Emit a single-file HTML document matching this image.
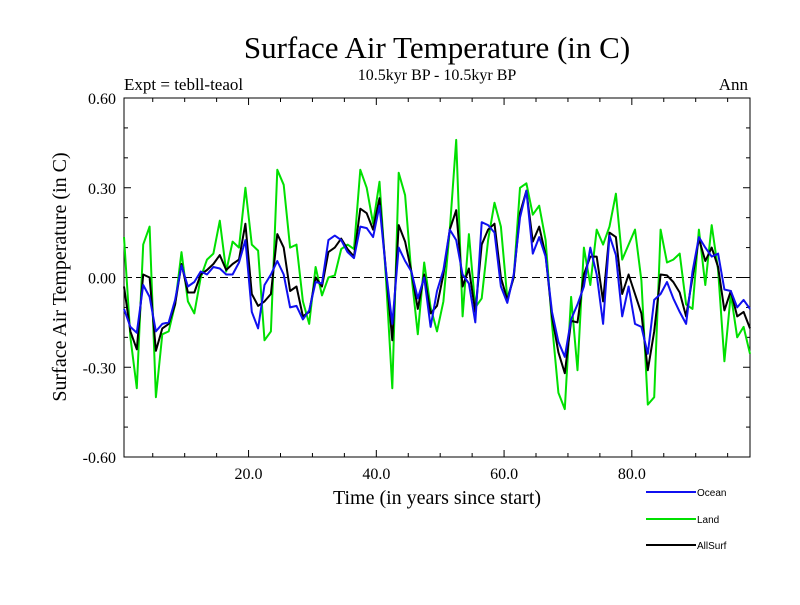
<!DOCTYPE html>
<html><head><meta charset="utf-8"><style>
html,body{margin:0;padding:0;background:#fff;}
svg text{font-family:"Liberation Serif",serif;}
</style></head><body>
<svg id="chart" width="800" height="600" xmlns="http://www.w3.org/2000/svg">
<text x="437" y="58" font-size="31" text-anchor="middle">Surface Air Temperature (in C)</text>
<text x="437" y="80" font-size="16" text-anchor="middle">10.5kyr BP - 10.5kyr BP</text>
<text x="124" y="90" font-size="17">Expt = tebll-teaol</text>
<text x="748" y="90" font-size="17" text-anchor="end">Ann</text>
<text x="437" y="504" font-size="20" text-anchor="middle">Time (in years since start)</text>
<text transform="translate(66,277) rotate(-90)" font-size="20" text-anchor="middle">Surface Air Temperature (in C)</text>
<g id="axes"></g>
<g id="series"></g>
<g id="legend"></g>
</svg>
<script>
const yTickValues=[0.6,0.3,0,-0.3,-0.6];
const yTickLabels=["0.60","0.30","0.00","-0.30","-0.60"];
const xTickValues=[20,40,60,80];
const xTickLabels=["20.0","40.0","60.0","80.0"];
const ocean=[-0.105,-0.165,-0.185,-0.025,-0.065,-0.18,-0.155,-0.15,-0.075,0.04,-0.03,-0.015,0.02,0.01,0.035,0.03,0.01,0.01,0.05,0.125,-0.115,-0.17,-0.025,0.01,0.055,0.01,-0.10,-0.095,-0.14,-0.11,-0.015,-0.02,0.125,0.14,0.125,0.085,0.065,0.17,0.165,0.135,0.24,0.025,-0.155,0.10,0.055,0.02,-0.07,0,-0.165,-0.045,0.025,0.16,0.125,0.01,-0.02,-0.15,0.185,0.175,0.15,-0.03,-0.085,0.01,0.20,0.29,0.08,0.135,0.07,-0.115,-0.215,-0.265,-0.14,-0.09,-0.03,0.10,0.01,-0.155,0.14,0.075,-0.13,-0.03,-0.155,-0.165,-0.255,-0.075,-0.055,-0.015,-0.07,-0.115,-0.155,0.02,0.135,0.10,0.07,0.08,-0.04,-0.045,-0.10,-0.075,-0.105];
const land=[0.135,-0.2,-0.37,0.11,0.17,-0.40,-0.19,-0.18,-0.09,0.085,-0.08,-0.12,0,0.06,0.08,0.19,0.02,0.12,0.10,0.30,0.11,0.09,-0.21,-0.18,0.36,0.31,0.10,0.11,-0.08,-0.155,0.035,-0.06,0,0.007,0.095,0.11,0.095,0.36,0.30,0.18,0.32,0,-0.37,0.35,0.275,0.01,-0.19,0.05,-0.10,-0.18,-0.08,0.16,0.46,-0.13,0.145,-0.10,-0.07,0.125,0.25,0.17,-0.07,0,0.30,0.315,0.21,0.24,0.125,-0.155,-0.385,-0.44,-0.065,-0.31,0.10,-0.025,0.16,0.11,0.17,0.28,0.06,0.11,0.16,-0.01,-0.425,-0.40,0.16,0.05,0.06,0.08,-0.09,-0.105,0.16,-0.025,0.175,0.025,-0.28,-0.055,-0.20,-0.165,-0.255];
const allSurf=[-0.03,-0.18,-0.24,0.01,0,-0.245,-0.17,-0.155,-0.09,0.045,-0.05,-0.05,0.01,0.025,0.045,0.075,0.025,0.045,0.06,0.18,-0.055,-0.095,-0.08,-0.055,0.145,0.10,-0.045,-0.03,-0.13,-0.115,0,-0.03,0.085,0.10,0.13,0.095,0.07,0.23,0.215,0.16,0.265,0.025,-0.21,0.175,0.12,0.02,-0.105,0.01,-0.12,-0.095,0.01,0.16,0.225,-0.03,0.03,-0.115,0.11,0.16,0.18,0,-0.075,0,0.215,0.29,0.12,0.17,0.075,-0.13,-0.25,-0.32,-0.145,-0.15,0.01,0.07,0.07,-0.08,0.15,0.135,-0.055,0.01,-0.055,-0.12,-0.31,-0.18,0.01,0.007,-0.015,-0.05,-0.13,0,0.13,0.055,0.10,0.035,-0.11,-0.045,-0.13,-0.115,-0.17];

const L=124,R=750,T=98,B=457,xMin=0.5,xMax=98.5,yMin=-0.6,yMax=0.6;
const NS="http://www.w3.org/2000/svg";
function xs(v){return L+(v-xMin)/(xMax-xMin)*(R-L);}
function ys(v){return B-(v-yMin)/(yMax-yMin)*(B-T);}
function mk(tag,attrs,parent){const e=document.createElementNS(NS,tag);for(const k in attrs)e.setAttribute(k,attrs[k]);parent.appendChild(e);return e;}
const axes=document.getElementById('axes');
let frame=mk('rect',{x:L,y:T,width:R-L,height:B-T,fill:'none',stroke:'#000','stroke-width':1},axes);


let zl=mk('line',{x1:L,x2:R,y1:ys(0),y2:ys(0),stroke:'#000','stroke-width':1,'stroke-dasharray':'8,4'},axes);


for(let v=-0.6;v<=0.6001;v+=0.1){
  const y=ys(v);const major=Math.abs(Math.round(v*10)%3)===0;const len=major?7:4;
  let t1=mk('line',{x1:L,x2:L+len,y1:y,y2:y,stroke:'#000'},axes);
  
  
  let t2=mk('line',{x1:R-len,x2:R,y1:y,y2:y,stroke:'#000'},axes);
  
  
}
yTickValues.forEach((v,i)=>{
  let t=mk('text',{x:L-8,y:ys(v)+6,'font-size':16,'text-anchor':'end'},axes);
  t.textContent=yTickLabels[i];
  
  
});
for(let v=5;v<=95;v+=5){
  const x=xs(v);const len=(v%20===0)?7:4;
  let t1=mk('line',{x1:x,x2:x,y1:B,y2:B-len,stroke:'#000'},axes);
  
  
  let t2=mk('line',{x1:x,x2:x,y1:T,y2:T+len,stroke:'#000'},axes);
  
  
}
xTickValues.forEach((v,i)=>{
  let t=mk('text',{x:xs(v),y:B+22,'font-size':16,'text-anchor':'middle'},axes);
  t.textContent=xTickLabels[i];
  
  
});
const series=document.getElementById('series');
function drawLine(data,color,name){
  const pts=data.map((v,k)=>xs(xMin+k).toFixed(1)+','+ys(v).toFixed(1)).join(' ');
  let p=mk('polyline',{points:pts,fill:'none',stroke:color,'stroke-width':2,'stroke-linejoin':'round'},series);
  
  
}
drawLine(land,'#00e000','land-line');
drawLine(allSurf,'#000000','allsurf-line');
drawLine(ocean,'#1010f0','ocean-line');
const legend=document.getElementById('legend');
[['Ocean','#1010f0',492],['Land','#00e000',519],['AllSurf','#000000',545]].forEach(e=>{
  let g=mk('g',{},legend);
  
  
  mk('line',{x1:646,x2:696,y1:e[2],y2:e[2],stroke:e[1],'stroke-width':2},g);
  let t=mk('text',{x:697,y:e[2]+4,'font-size':10,style:'font-family:"Liberation Sans",sans-serif'},g);
  t.textContent=e[0];
});
</script>
</body></html>
